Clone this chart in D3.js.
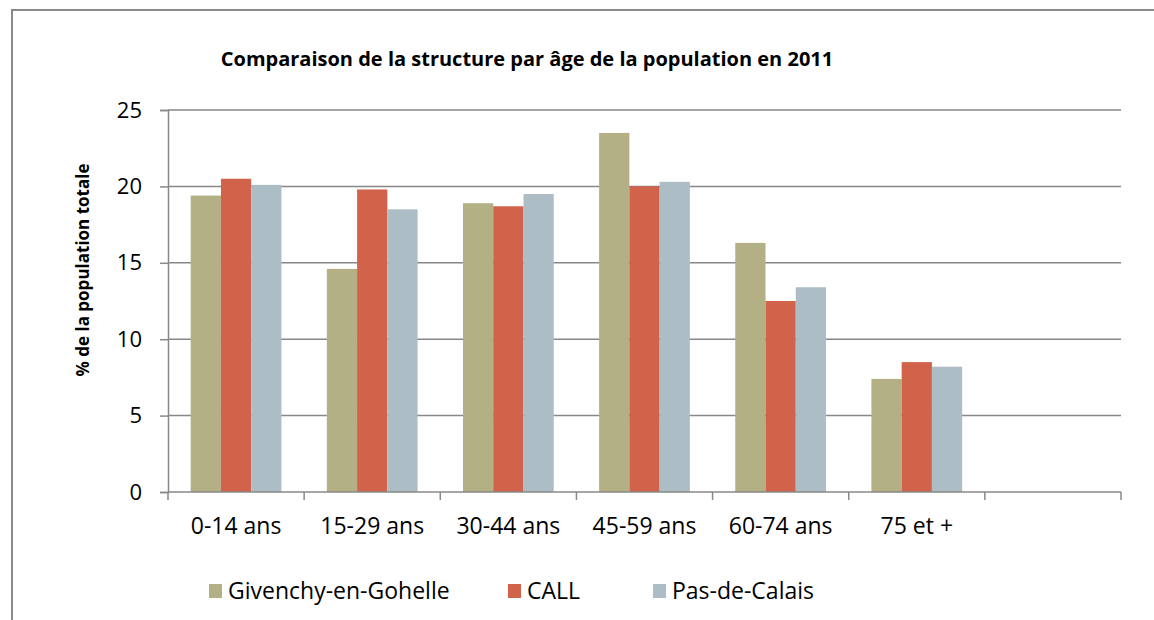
<!DOCTYPE html>
<html lang="fr">
<head>
<meta charset="UTF-8">
<script src="https://d3js.org/d3.v7.min.js"></script>
<style>
  body { margin: 0; background: #fff; }
  text { font-family: "Open Sans", Lato, sans-serif; fill: #000; }
</style>
<title>Structure par âge</title>
</head>
<body>
<div class="canvas"></div>
<script>
const categories = ['0-14 ans', '15-29 ans', '30-44 ans', '45-59 ans', '60-74 ans', '75 et +', '']
const seriesNames = ['Givenchy-en-Gohelle', 'CALL', 'Pas-de-Calais']
const givenchy = [19.4, 14.6, 18.9, 23.5, 16.3, 7.4]
const call = [20.5, 19.8, 18.7, 20.0, 12.5, 8.5]
const pasDeCalais = [20.1, 18.5, 19.5, 20.3, 13.4, 8.2]
const yTicks = [0, 5, 10, 15, 20, 25]
const colors = ['#b3b086', '#d1634a', '#adbdc5']

const W = 1154, H = 620
const [ml, mr, mt, mb] = [168, 33, 110, 128]
const gw = W - ml - mr
const gh = H - mt - mb

const svg = d3.select('.canvas').append('svg')
  .attr('width', W).attr('height', H)

// outer frame
svg.append('rect')
  .attr('x', 12).attr('y', 10)
  .attr('width', W + 20).attr('height', H + 20)
  .attr('fill', 'none').attr('stroke', '#8a8a8a').attr('stroke-width', 2)

svg.append('text')
  .attr('x', 527).attr('y', 66)
  .attr('text-anchor', 'middle')
  .style('font-size', '20px').style('font-weight', 'bold')
  .text('Comparaison de la structure par âge de la population en 2011')

const x = d3.scaleBand().domain(categories).range([0, gw])
const xs = d3.scaleBand().domain(seriesNames).range([0, x.bandwidth()]).paddingOuter(0.75)
const y = d3.scaleLinear().domain([0, 25]).range([gh, 0])

const g = svg.append('g').attr('transform', `translate(${ml},${mt})`)

// gridlines
g.selectAll('.grid').data(yTicks.filter(d => d > 0)).enter()
  .append('line')
  .attr('x1', 0).attr('x2', gw)
  .attr('y1', d => y(d)).attr('y2', d => y(d))
  .attr('stroke', '#888').attr('stroke-width', 1.5)

const series = [givenchy, call, pasDeCalais]
series.forEach((vals, si) => {
  g.selectAll('.bar' + si).data(vals).enter()
    .append('rect')
    .attr('x', (d, i) => x(categories[i]) + xs(seriesNames[si]))
    .attr('y', d => y(d))
    .attr('width', xs.bandwidth())
    .attr('height', d => gh - y(d))
    .attr('fill', colors[si])
})

// y axis
const yAxisG = g.append('g')
  .call(d3.axisLeft(y).tickValues(yTicks).tickSize(8).tickPadding(18))
yAxisG.select('.domain').attr('stroke', '#888').attr('stroke-width', 1.5)
yAxisG.selectAll('.tick line').attr('stroke', '#888').attr('stroke-width', 1.5)
yAxisG.selectAll('text').style('font-size', '22px').attr('fill', '#000')

// x axis
const xAxisG = g.append('g').attr('transform', `translate(0,${gh})`)
  .call(d3.axisBottom(x).tickSize(0))
xAxisG.select('.domain').remove()
xAxisG.selectAll('text').attr('y', 42).attr('dy', 0)
  .style('font-size', '23px').attr('fill', '#000')
xAxisG.append('line').attr('x1', 0).attr('x2', gw)
  .attr('stroke', '#888').attr('stroke-width', 1.5)
xAxisG.selectAll('.bound').data(categories.map(c => x(c)).concat([gw])).enter()
  .append('line')
  .attr('x1', d => d).attr('x2', d => d)
  .attr('y1', 0).attr('y2', 8)
  .attr('stroke', '#888').attr('stroke-width', 1.5)

// y label
svg.append('text')
  .attr('transform', 'translate(89,270) rotate(-90)')
  .attr('text-anchor', 'middle')
  .style('font-size', '17px').style('font-weight', 'bold')
  .text('% de la population totale')

// legend
const legendX = [209, 508, 653]
const legend = svg.selectAll('.leg').data(seriesNames).enter()
  .append('g').attr('transform', (d, i) => `translate(${legendX[i]},584)`)
legend.append('rect').attr('width', 13).attr('height', 14)
  .attr('fill', (d, i) => colors[i])
legend.append('text').attr('x', 19).attr('y', 15)
  .style('font-size', '23px').text(d => d)
</script>
</body>
</html>
